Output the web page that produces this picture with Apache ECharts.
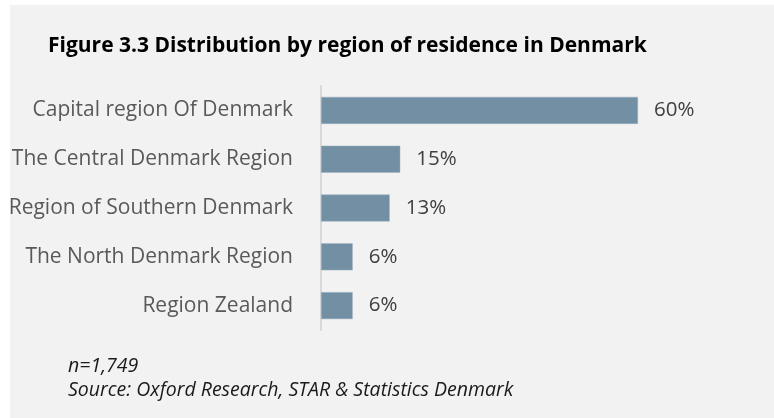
<!DOCTYPE html>
<html>
<head>
<meta charset="utf-8">
<script src="https://cdn.jsdelivr.net/npm/echarts@6/dist/echarts.min.js"></script>
<style>html,body{margin:0;padding:0;background:#fff;}#c{width:774px;height:418px;}</style>
</head>
<body>
<div id="c"></div>
<script>
const categories = ["Capital region Of Denmark", "The Central Denmark Region", "Region of Southern Denmark", "The North Denmark Region", "Region Zealand"];
const values = [60, 15, 13, 6, 6];
const titleText = "Figure 3.3 Distribution by region of residence in Denmark";
const noteN = "n=1,749";
const noteSource = "Source: Oxford Research, STAR & Statistics Denmark";

const chart = echarts.init(document.getElementById('c'), null, {renderer: 'canvas'});
const FONT = "Open Sans";
chart.setOption({
  backgroundColor: '#ffffff',
  animation: false,
  graphic: [
    {type: 'rect', left: 10, top: 5, shape: {width: 764, height: 413}, style: {fill: '#f2f2f2'}, z: -10}
  ],
  title: [
    {text: titleText, left: 43, top: 31, textStyle: {fontFamily: FONT, fontSize: 21, fontWeight: 'bold', color: '#000'}},
    {text: noteN, left: 63, top: 351, textStyle: {fontFamily: FONT, fontSize: 19.5, fontStyle: 'italic', fontWeight: 'normal', color: '#1a1a1a'}},
    {text: noteSource, left: 63, top: 375, textStyle: {fontFamily: FONT, fontSize: 19.5, fontStyle: 'italic', fontWeight: 'normal', color: '#1a1a1a'}}
  ],
  grid: {left: 321, right: 136, top: 86, bottom: 88, containLabel: false},
  xAxis: {
    type: 'value', min: 0, max: 60,
    show: false
  },
  yAxis: {
    type: 'category', data: categories, inverse: true,
    axisLine: {show: true, lineStyle: {color: '#d9d9d9', width: 2}},
    axisTick: {show: false},
    axisLabel: {margin: 28, fontFamily: FONT, fontSize: 21, color: '#595959'}
  },
  series: [{
    type: 'bar', data: values, barWidth: 27,
    itemStyle: {color: '#728fa3', borderColor: '#9fb3c2', borderWidth: 0.5},
    label: {show: true, position: 'right', distance: 16, formatter: '{c}%', fontFamily: FONT, fontSize: 20.5, color: '#404040'}
  }]
});
</script>
</body>
</html>
